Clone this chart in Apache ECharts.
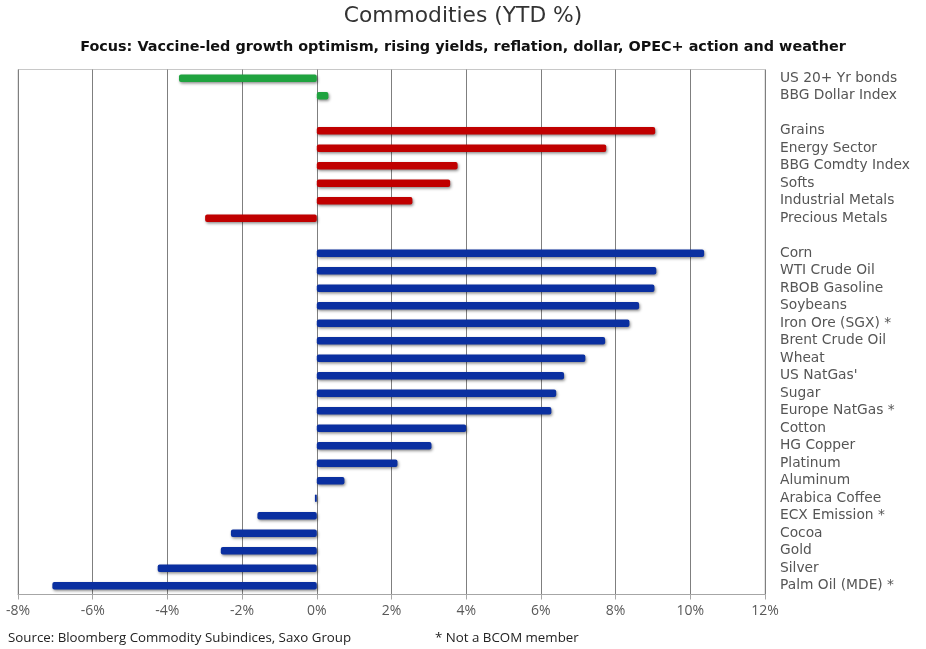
<!DOCTYPE html>
<html>
<head>
<meta charset="utf-8">
<script src="https://cdn.jsdelivr.net/npm/echarts@6/dist/echarts.min.js"></script>
<style>
html,body{margin:0;padding:0;background:#fff;}
#chart{width:926px;height:649px;}
</style>
</head>
<body>
<div id="chart"></div>
<script>
// Categories, top to bottom (blank rows separate the groups)
const macroCats = ['US 20+ Yr bonds', 'BBG Dollar Index'];
const sectorCats = ['Grains', 'Energy Sector', 'BBG Comdty Index', 'Softs', 'Industrial Metals', 'Precious Metals'];
const commodityCats = ['Corn', 'WTI Crude Oil', 'RBOB Gasoline', 'Soybeans', 'Iron Ore (SGX) *', 'Brent Crude Oil', 'Wheat', "US NatGas'", 'Sugar', 'Europe NatGas *', 'Cotton', 'HG Copper', 'Platinum', 'Aluminum', 'Arabica Coffee', 'ECX Emission *', 'Cocoa', 'Gold', 'Silver', 'Palm Oil (MDE) *'];

// YTD % values
const macroValues = [-3.69, 0.31];
const sectorValues = [9.06, 7.75, 3.77, 3.57, 2.56, -2.99];
const commodityValues = [10.37, 9.09, 9.04, 8.63, 8.37, 7.72, 7.19, 6.62, 6.41, 6.28, 4.0, 3.07, 2.16, 0.74, -0.05, -1.59, -2.30, -2.57, -4.26, -7.08];

const xTicks = [-8, -6, -4, -2, 0, 2, 4, 6, 8, 10, 12];

const categories = [].concat(macroCats, [' '], sectorCats, ['  '], commodityCats);
const nulls = n => new Array(n).fill(null);
const greenData = [].concat(macroValues, nulls(1 + sectorCats.length + 1 + commodityCats.length));
const redData = [].concat(nulls(macroCats.length + 1), sectorValues, nulls(1 + commodityCats.length));
const blueData = [].concat(nulls(macroCats.length + 1 + sectorCats.length + 1), commodityValues);

const shadow = {shadowColor: 'rgba(0,0,0,0.45)', shadowBlur: 3, shadowOffsetX: 1, shadowOffsetY: 1.5, borderRadius: 2};
function barSeries(name, data, color) {
  return {
    name, type: 'bar', data, stack: 'all', barWidth: 7.5,
    itemStyle: Object.assign({color}, shadow),
    emphasis: {disabled: true}
  };
}

const chart = echarts.init(document.getElementById('chart'), null, {renderer: 'canvas'});
chart.setOption({
  animation: false,
  backgroundColor: '#ffffff',
  title: [
    {text: 'Commodities (YTD %)', left: 'center', top: 5, padding: 0,
     textStyle: {fontFamily: 'DejaVu Sans', fontSize: 21.8, fontWeight: 'normal', color: '#333333'}},
    {text: 'Focus: Vaccine-led growth optimism, rising yields, reflation, dollar, OPEC+ action and weather', left: 'center', top: 40, padding: 0,
     textStyle: {fontFamily: 'DejaVu Sans', fontSize: 14.4, fontWeight: 'bold', color: '#111111'}},
    {text: 'Source: Bloomberg Commodity Subindices, Saxo Group', left: 8, top: 632, padding: 0,
     textStyle: {fontFamily: 'Open Sans', fontSize: 13.3, fontWeight: 'normal', color: '#222222'}},
    {text: '* Not a BCOM member', left: 435, top: 632, padding: 0,
     textStyle: {fontFamily: 'Open Sans', fontSize: 13.3, fontWeight: 'normal', color: '#222222'}}
  ],
  grid: {left: 18, right: 161, top: 69.5, bottom: 54.5, show: true, borderColor: '#c8c8c8', borderWidth: 1, containLabel: false},
  xAxis: {
    type: 'value', min: xTicks[0], max: xTicks[xTicks.length - 1], interval: 2,
    axisLine: {show: true, lineStyle: {color: '#a6a6a6'}},
    axisTick: {show: true, length: 5, lineStyle: {color: '#a6a6a6'}},
    axisLabel: {formatter: v => v + '%', fontFamily: 'Open Sans', fontSize: 14, color: '#595959', margin: 10},
    splitLine: {show: true, lineStyle: {color: '#7f7f7f', width: 1}}
  },
  yAxis: {
    type: 'category', data: categories, inverse: true, position: 'right',
    axisLine: {show: false}, axisTick: {show: false},
    axisLabel: {interval: 0, fontFamily: 'DejaVu Sans', fontSize: 13.8, color: '#555555', margin: 15, align: 'left'},
    splitLine: {show: false}
  },
  series: [
    barSeries('Macro', greenData, '#1fa33f'),
    barSeries('Sectors', redData, '#c00000'),
    barSeries('Commodities', blueData, '#0a2fa0')
  ]
});
</script>
</body>
</html>
